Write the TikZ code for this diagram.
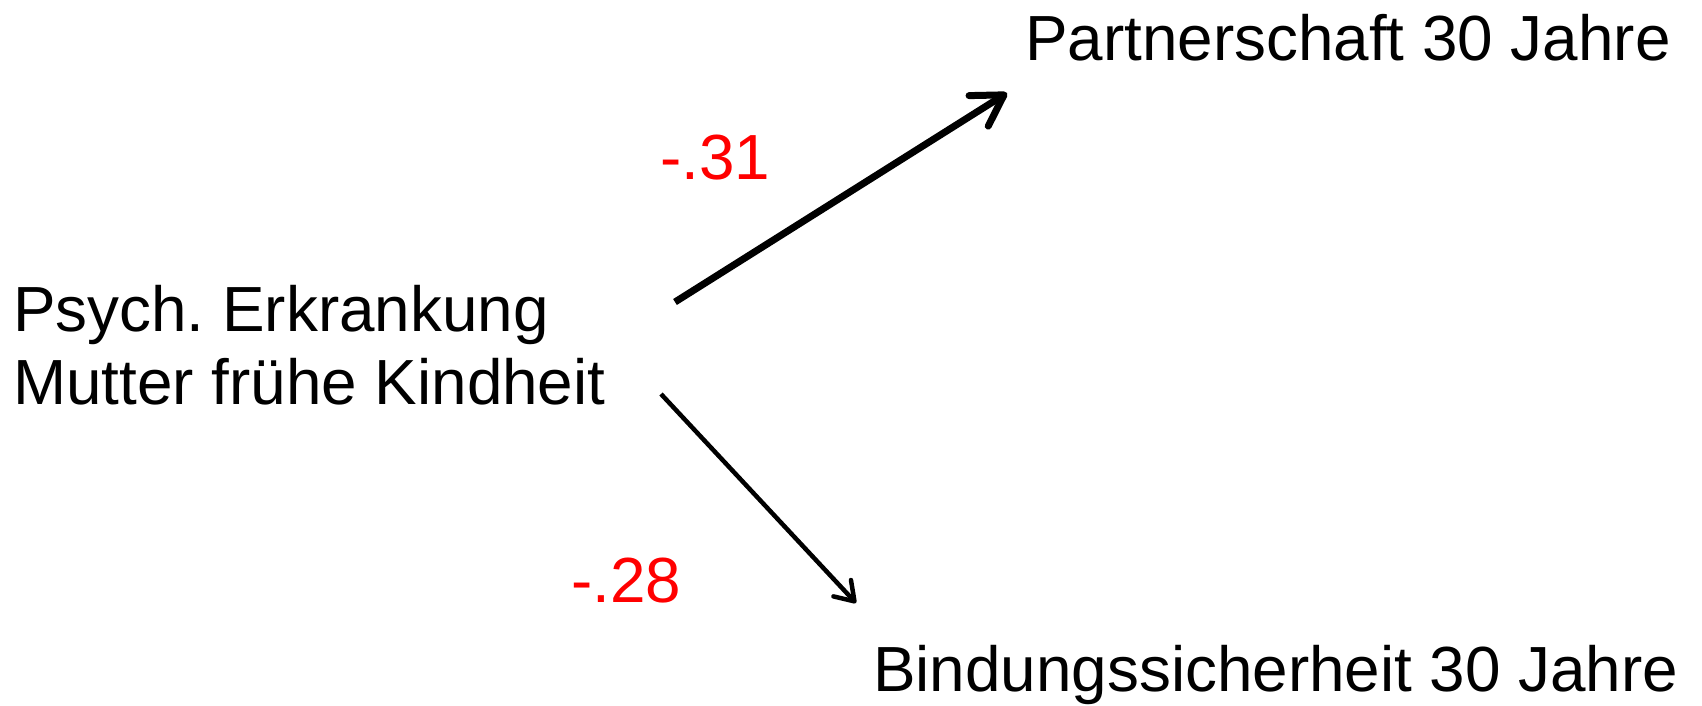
\documentclass[tikz,border=0pt]{standalone}
\usepackage{fontspec}
\setmainfont{Liberation Sans}
\usetikzlibrary{arrows.meta}
\definecolor{labred}{RGB}{255,0,0}
\tikzset{
  lbl/.style={inner sep=0pt, anchor=base west, font=\fontsize{63.8}{73}\selectfont},
  coef/.style={inner sep=0pt, anchor=base west, text=labred, font=\fontsize{63.8}{73}\selectfont},
  thickarrow/.style={line width=7pt, -{Straight Barb[length=30pt, width=36pt, line cap=round, line join=round]}},
  thinarrow/.style={line width=4.5pt, -{Straight Barb[length=18pt, width=24pt, line cap=round, line join=round]}}
}
\begin{document}
\begin{tikzpicture}[x=1pt, y=-1pt]
\useasboundingbox (0,0) rectangle (1702,705);
\node[lbl, align=left] (src) at (13,404) {Psych.\ Erkrankung\\Mutter frühe Kindheit};
\node[lbl] (partner) at (1025,60) {Partnerschaft 30 Jahre};
\node[lbl] (bindung) at (873,691) {Bindungssicherheit 30 Jahre};
\node[coef] (c31) at (660,179) {-.31};
\node[coef] (c28) at (571,602) {-.28};
\coordinate (a1s) at (675,302);
\coordinate (a1e) at (1007,93);
\coordinate (a2s) at (661,394);
\coordinate (a2e) at (856,603);
\draw[thickarrow] (a1s) -- (a1e);
\draw[thinarrow] (a2s) -- (a2e);
\end{tikzpicture}
\end{document}
